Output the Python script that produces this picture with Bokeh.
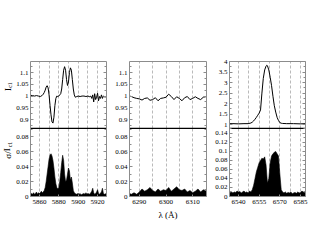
from bokeh.plotting import figure
from bokeh.layouts import row, column
from bokeh.models import Range1d, FixedTicker, LinearAxis
from bokeh.core.properties import value
from bokeh.embed import file_html
from bokeh.resources import INLINE

# ---------------- data ----------------
na_wl = [5851, 5853, 5855, 5857, 5859, 5861, 5863, 5864, 5865, 5866, 5867, 5868, 5869, 5870,
         5871, 5872, 5873, 5874, 5875, 5876, 5877, 5878, 5879, 5880, 5881, 5882, 5883, 5884,
         5885, 5886, 5887, 5888, 5889, 5890, 5891, 5892, 5893, 5894, 5895, 5896, 5897, 5898,
         5900, 5902, 5904, 5906, 5908, 5910, 5912, 5913, 5914, 5915, 5916, 5917, 5918, 5919,
         5920, 5921, 5922, 5923, 5924, 5925, 5926, 5928, 5929.2]
na_flux = [1.003, 1.002, 1.000, 1.002, 1.000, 0.998, 1.003, 1.008, 1.015, 1.025, 1.038, 1.044, 1.035, 1.005,
           0.96, 0.92, 0.89, 0.885, 0.91, 0.96, 0.99, 1.0, 0.998, 1.0, 1.005, 1.01, 1.03, 1.07,
           1.11, 1.125, 1.11, 1.07, 1.045, 1.06, 1.1, 1.12, 1.11, 1.07, 1.03, 1.005, 0.995, 0.997,
           1.0, 0.998, 1.0, 1.0, 0.998, 1.0, 0.997, 1.0, 0.99, 1.005, 0.975, 1.01, 0.985, 0.995,
           1.012, 0.98, 0.998, 0.99, 1.005, 0.99, 1.0, 0.995, 1.0]

na_sig_wl = [5850.85, 5852, 5853, 5854, 5855, 5856, 5857, 5858, 5859, 5860, 5861, 5862, 5863, 5864,
             5865, 5866, 5867, 5868, 5869, 5870, 5871, 5872, 5873, 5874, 5875, 5876, 5877, 5878,
             5879, 5880, 5881, 5882, 5883, 5884, 5885, 5886, 5887, 5888, 5889, 5890, 5891, 5892,
             5893, 5894, 5895, 5896, 5897, 5898, 5900, 5901, 5902, 5903, 5904, 5906, 5907, 5908,
             5909, 5910, 5912, 5913, 5914, 5915, 5916, 5917, 5918, 5919, 5920, 5921, 5922, 5924,
             5925, 5926, 5927, 5929.2]
na_sig = [0.003, 0.004, 0.003, 0.005, 0.003, 0.004, 0.006, 0.003, 0.005, 0.004, 0.005, 0.007, 0.005, 0.006,
          0.008, 0.012, 0.02, 0.03, 0.04, 0.05, 0.055, 0.057, 0.054, 0.048, 0.038, 0.026, 0.017, 0.012,
          0.01, 0.012, 0.02, 0.032, 0.045, 0.055, 0.048, 0.03, 0.02, 0.022, 0.03, 0.038, 0.034, 0.022,
          0.026, 0.018, 0.008, 0.005, 0.004, 0.003, 0.004, 0.003, 0.004, 0.002, 0.003, 0.004, 0.003, 0.005,
          0.003, 0.004, 0.003, 0.005, 0.007, 0.011, 0.005, 0.003, 0.004, 0.006, 0.009, 0.004, 0.003, 0.006,
          0.011, 0.004, 0.003, 0.004]

oi_wl = [6286.3, 6287, 6288, 6289, 6290, 6291, 6292, 6293, 6294, 6295, 6296, 6297, 6298, 6299, 6300,
         6301, 6302, 6303, 6304, 6305, 6306, 6307, 6308, 6309, 6310, 6311, 6312, 6313, 6314, 6315.2]
oi_flux = [1.0, 0.998, 0.993, 0.99, 0.988, 0.983, 0.99, 0.992, 0.982, 0.985, 0.993, 0.98, 0.99, 0.992, 0.995,
           1.008, 0.998, 0.985, 0.997, 0.99, 0.98, 0.993, 0.998, 0.985, 0.99, 0.997, 0.99, 0.985, 0.995, 0.998]
oi_sig = [0.004, 0.003, 0.005, 0.003, 0.006, 0.01, 0.007, 0.009, 0.012, 0.008, 0.006, 0.01, 0.007, 0.009, 0.008,
          0.012, 0.007, 0.01, 0.013, 0.009, 0.008, 0.01, 0.006, 0.008, 0.005, 0.007, 0.01, 0.006, 0.009, 0.007]

ha_wl = [6533.5, 6536, 6540, 6544, 6547, 6549, 6550, 6551, 6552, 6553, 6554, 6555, 6556, 6557, 6558,
         6559, 6560, 6560.5, 6561, 6562, 6563, 6564, 6565, 6566, 6567, 6568, 6569, 6570, 6571, 6572,
         6575, 6580, 6585, 6588.6]
ha_flux = [1.05, 1.05, 1.04, 1.05, 1.05, 1.08, 1.12, 1.18, 1.26, 1.35, 1.45, 1.55, 1.7, 2.5, 3.2,
           3.6, 3.78, 3.82, 3.8, 3.6, 3.25, 2.85, 2.35, 1.9, 1.6, 1.35, 1.2, 1.1, 1.07, 1.06,
           1.05, 1.05, 1.04, 1.05]

ha_sig_wl = [6533.5, 6535, 6536, 6537, 6538, 6539, 6540, 6541, 6542, 6543, 6544, 6545, 6546, 6547, 6548,
             6549, 6550, 6551, 6552, 6553, 6554, 6555, 6556, 6557, 6558, 6559, 6560, 6561, 6562, 6563,
             6564, 6565, 6566, 6567, 6568, 6569, 6570, 6571, 6572, 6573, 6574, 6575, 6576, 6577, 6578,
             6579, 6580, 6581, 6582, 6583, 6584, 6585, 6586, 6587, 6588.6]
ha_sig = [0.008, 0.01, 0.008, 0.01, 0.009, 0.012, 0.01, 0.011, 0.008, 0.01, 0.012, 0.009, 0.01, 0.008, 0.012,
          0.01, 0.015, 0.025, 0.04, 0.055, 0.065, 0.075, 0.08, 0.085, 0.083, 0.088, 0.07, 0.03, 0.04, 0.075,
          0.09, 0.095, 0.098, 0.1, 0.095, 0.09, 0.05, 0.015, 0.01, 0.008, 0.01, 0.007, 0.009, 0.008, 0.01,
          0.006, 0.008, 0.009, 0.007, 0.01, 0.008, 0.009, 0.012, 0.01, 0.008]

# ticks / grid positions
na_xticks = [5860, 5880, 5900, 5920]
na_grid = [5860, 5870, 5880, 5890, 5900, 5910, 5920]
oi_xticks = [6290, 6300, 6310]
oi_grid = [6290, 6295, 6300, 6305, 6310]
ha_xticks = [6540, 6555, 6570, 6585]
ha_grid = [6540, 6547.5, 6555, 6562.5, 6570, 6577.5, 6585]

flux_yticks = [0.9, 0.95, 1.0, 1.05, 1.1]
flux_yminor = [0.875, 0.925, 0.975, 1.025, 1.075, 1.125]
sig_yticks = [0, 0.02, 0.04, 0.06, 0.08]
sig_yminor = [0.01, 0.03, 0.05, 0.07, 0.09]
ha_yticks = [1, 1.5, 2, 2.5, 3, 3.5, 4]
ha_yminor = [1.25, 1.75, 2.25, 2.75, 3.25, 3.75]
has_yticks = [0, 0.02, 0.04, 0.06, 0.08, 0.1, 0.12, 0.14]
has_yminor = [0.01, 0.03, 0.05, 0.07, 0.09, 0.11, 0.13, 0.15]

# y-axis titles: main part and subscript
top_title = ["I", "c1"]
bot_title = ["σ/I", "c1"]

FONT = "Liberation Serif"
GREY = "#8c8c8c"


def fmt_labels(ticks):
    return {t: ("%g" % t) for t in ticks}


def hide_labels(ax):
    ax.major_label_text_color = None
    ax.major_label_text_font_size = "1px"
    ax.major_label_standoff = 0


def plain_edge(ax, color, width):
    ax.ticker = FixedTicker(ticks=[])
    ax.axis_line_color = color
    ax.axis_line_width = width
    ax.major_tick_line_color = None
    ax.minor_tick_line_color = None
    ax.major_tick_in = 0
    ax.major_tick_out = 0
    ax.minor_tick_in = 0
    ax.minor_tick_out = 0
    hide_labels(ax)


def style_y(ax, ticks, minor, labels=True):
    ax.ticker = FixedTicker(ticks=ticks, minor_ticks=minor)
    ax.axis_line_color = GREY
    ax.axis_line_width = 1
    ax.major_tick_in = 3
    ax.major_tick_out = 0
    ax.minor_tick_in = 2
    ax.minor_tick_out = 0
    ax.major_tick_line_color = GREY
    ax.minor_tick_line_color = GREY
    ax.major_label_text_font = FONT
    ax.major_label_text_color = "black"
    if labels:
        ax.major_label_text_font_size = "7px"
        ax.major_label_standoff = 2
        ax.major_label_overrides = fmt_labels(ticks)
    else:
        hide_labels(ax)


def make_pair(xr, grid, xticks, fy, fyt, fym, sy, syt, sym, fx, ff, sx, ss,
              w, bl, br, xlabel=None):
    top = figure(width=w, height=128, x_range=Range1d(*xr), y_range=Range1d(*fy),
                 output_backend="svg", toolbar_location=None,
                 min_border_left=bl, min_border_right=br, min_border_top=61, min_border_bottom=0)
    bot = figure(width=w, height=117, x_range=Range1d(*xr), y_range=Range1d(*sy),
                 output_backend="svg", toolbar_location=None,
                 min_border_left=bl, min_border_right=br, min_border_top=0, min_border_bottom=49)
    for p in (top, bot):
        p.outline_line_color = None
        p.background_fill_color = "white"
        p.border_fill_color = "white"
        p.ygrid.visible = False
        p.xgrid.ticker = FixedTicker(ticks=grid)
        p.xgrid.grid_line_color = GREY
        p.xgrid.grid_line_dash = "3 2"
        p.xgrid.grid_line_width = 0.6
    top_below = top.below[0]
    bot_below = bot.below[0]
    # top figure: black separator below, grey edge above
    plain_edge(top_below, "black", 1.5)
    ab = LinearAxis()
    top.add_layout(ab, "above")
    plain_edge(ab, GREY, 1)
    # bottom figure: black separator above
    at = LinearAxis()
    bot.add_layout(at, "above")
    plain_edge(at, "black", 1)
    # bottom x axis
    bx = bot_below
    bx.ticker = FixedTicker(ticks=xticks, minor_ticks=grid)
    bx.axis_line_color = GREY
    bx.axis_line_width = 1
    bx.major_tick_in = 2
    bx.major_tick_out = 0
    bx.minor_tick_in = 0
    bx.minor_tick_out = 0
    bx.major_tick_line_color = GREY
    bx.minor_tick_line_color = None
    bx.major_label_text_font = FONT
    bx.major_label_text_font_size = "7px"
    bx.major_label_text_color = "black"
    bx.major_label_standoff = 3
    if xlabel:
        bx.axis_label = xlabel
        bx.axis_label_text_font = FONT
        bx.axis_label_text_font_size = "9px"
        bx.axis_label_text_font_style = "normal"
        bx.axis_label_text_color = "black"
        bx.axis_label_standoff = 3
    style_y(top.left[0], fyt, fym)
    style_y(bot.left[0], syt, sym)
    ra = LinearAxis()
    top.add_layout(ra, "right")
    style_y(ra, fyt, fym, labels=False)
    rb = LinearAxis()
    bot.add_layout(rb, "right")
    style_y(rb, syt, sym, labels=False)

    top.line(fx, ff, line_color="black", line_width=1)
    bot.varea(x=sx, y1=[0] * len(ss), y2=ss, fill_color="black")
    bot.line(sx, ss, line_color="black", line_width=0.6)
    return top, bot


def title_strip(h, parts, main_y, sub_y):
    # narrow strip (pixel coordinates, y downward) holding a rotated axis title
    s = figure(width=13, height=h, x_range=Range1d(0, 13), y_range=Range1d(h, 0),
               output_backend="svg", toolbar_location=None,
               x_axis_type=None, y_axis_type=None,
               min_border_left=0, min_border_right=0, min_border_top=0, min_border_bottom=0)
    s.outline_line_color = None
    s.grid.visible = False
    s.text(x=[7], y=[main_y], text=[parts[0]], angle=1.5708, text_font=value(FONT),
           text_font_size="9px", text_color="black", text_align="center", text_baseline="middle")
    s.text(x=[9.6], y=[sub_y], text=[parts[1]], angle=1.5708, text_font=value(FONT),
           text_font_size="6px", text_color="black", text_align="center", text_baseline="middle")
    return s


t1, b1 = make_pair((5850.85, 5929.2), na_grid, na_xticks,
                   (0.862, 1.147), flux_yticks, flux_yminor,
                   (0, 0.0907), sig_yticks, sig_yminor,
                   na_wl, na_flux, na_sig_wl, na_sig, 99, 16, 6)
t2, b2 = make_pair((6286.3, 6315.2), oi_grid, oi_xticks,
                   (0.862, 1.147), flux_yticks, flux_yminor,
                   (0, 0.0907), sig_yticks, sig_yminor,
                   oi_wl, oi_flux, oi_wl, oi_sig, 100, 16, 6, xlabel="λ (Å)")
t3, b3 = make_pair((6533.5, 6588.6), ha_grid, ha_xticks,
                   (0.82, 4.0), ha_yticks, ha_yminor,
                   (0, 0.151), has_yticks, has_yminor,
                   ha_wl, ha_flux, ha_sig_wl, ha_sig, 99, 17, 6)

st = title_strip(128, top_title, 89, 84.5)
sb = title_strip(117, bot_title, 25, 16)

layout = row(column(st, sb), column(t1, b1), column(t2, b2), column(t3, b3))
open("out.html", "w").write(file_html(layout, INLINE))
